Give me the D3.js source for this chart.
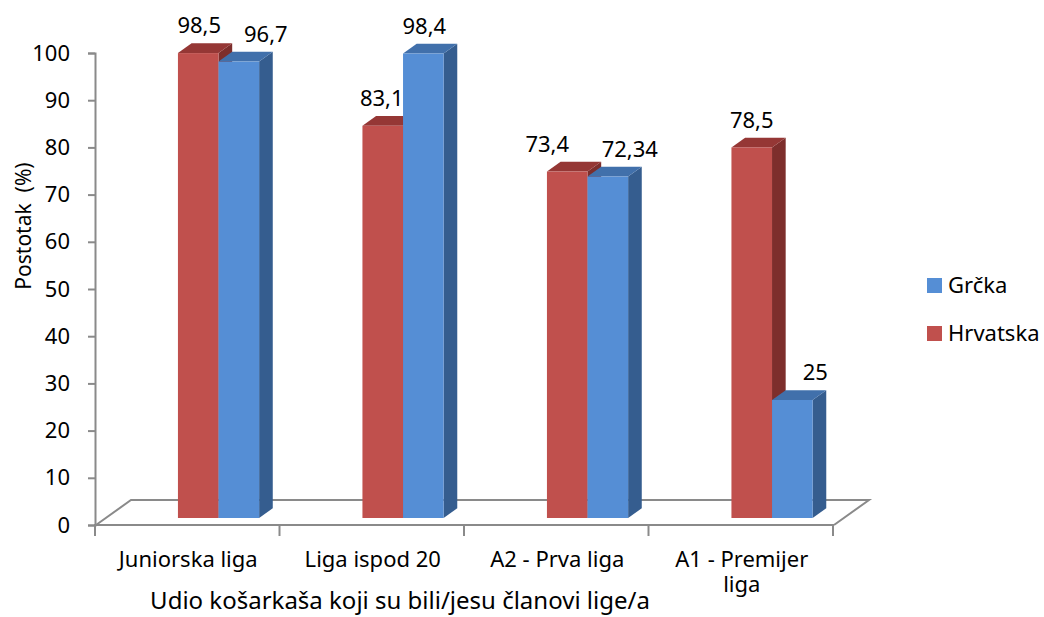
<!DOCTYPE html>
<html>
<head>
<meta charset="utf-8">
<script src="https://cdn.jsdelivr.net/npm/d3@7"></script>
<style>
  body { margin: 0; background: #fff; }
  text { font-family: 'Noto Sans', sans-serif; fill: #000; }
</style>
</head>
<body>
<div id="chart"></div>
<script>
const categories = ['Juniorska liga', 'Liga ispod 20', 'A2 - Prva liga', 'A1 - Premijer liga']
const hrvatska = [98.5, 83.1, 73.4, 78.5]
const grcka = [96.7, 98.4, 72.34, 25]
const yTicks = [0, 10, 20, 30, 40, 50, 60, 70, 80, 90, 100]
const seriesNames = ['Hrvatska', 'Grčka']
const legendOrder = ['Grčka', 'Hrvatska']

const width = 1044, height = 617

const colors = {
  'Hrvatska': { front: '#C0504D', top: '#953735', side: '#7D2E2C' },
  'Grčka': { front: '#558ED5', top: '#4170AB', side: '#355D8F' }
}

// label nudges (Excel moved some labels to avoid overlap)
const labelDx = {
  'Hrvatska': [1, -1, -20, 0],
  'Grčka': [27, 1, 22, 23]
}

const svg = d3.select('#chart')
  .append('svg')
    .attr('width', width)
    .attr('height', height)

const x = d3.scaleBand()
  .domain(categories)
  .range([96, 834])

const y = d3.scaleLinear()
  .domain([0, 100])
  .range([525, 53])

// depth of the floor (3d)
const depth = { dx: 35, dy: -25 }
const f0 = 0.28, f1 = 0.67
const axisColor = '#8a8a8a'

// floor outline
const y0 = y(0)
svg.append('path')
  .attr('d', `M${x.range()[0]},${y0} L${x.range()[0] + depth.dx},${y0 + depth.dy} L${x.range()[1] + depth.dx},${y0 + depth.dy} L${x.range()[1]},${y0}`)
  .style('fill', 'none')
  .style('stroke', axisColor)
  .style('stroke-width', 2)

// y axis
const yAxis = svg.append('g')
  .attr('transform', `translate(${x.range()[0] - 1}, 0)`)
  .call(d3.axisLeft(y).tickValues(yTicks).tickSize(7).tickPadding(18))
yAxis.select('.domain').style('stroke', axisColor).style('stroke-width', 2)
yAxis.selectAll('.tick line').style('stroke', axisColor).style('stroke-width', 2)
yAxis.selectAll('.tick text')
  .style('font-size', '22px')
  .style('font-family', "'Noto Sans', sans-serif")

// x axis front edge + ticks
svg.append('line')
  .attr('x1', x.range()[0] - 2).attr('x2', x.range()[1])
  .attr('y1', y0).attr('y2', y0)
  .style('stroke', axisColor).style('stroke-width', 2)

const xTicks = categories.map(c => x(c)).concat([x.range()[1]])
svg.selectAll('.xtick')
  .data(xTicks)
  .enter()
  .append('line')
  .attr('class', 'xtick')
  .attr('x1', d => d - 1).attr('x2', d => d - 1)
  .attr('y1', y0).attr('y2', y0 + 11)
  .style('stroke', axisColor).style('stroke-width', 2)

// bars
const bw = x.bandwidth()
const barW = 0.22 * bw
const barInset = 0.391 * bw
const fx = depth.dx * f0, fy = depth.dy * f0
const bdx = depth.dx * (f1 - f0), bdy = depth.dy * (f1 - f0)

const bars = []
categories.forEach((c, i) => {
  [hrvatska[i], grcka[i]].forEach((v, j) => {
    bars.push({ cat: c, i, series: seriesNames[j], j, value: v })
  })
})

const g = svg.selectAll('.bar')
  .data(bars)
  .enter()
  .append('g')
  .attr('class', 'bar')

const bx = d => x(d.cat) + fx + barInset + d.j * barW
const byTop = d => y(d.value) + fy
const byBot = y0 + fy

g.append('path')
  .attr('d', d => {
    const l = bx(d), r = l + barW, t = byTop(d)
    return `M${r},${t} L${r + bdx},${t + bdy} L${r + bdx},${byBot + bdy} L${r},${byBot} Z`
  })
  .style('fill', d => colors[d.series].side)

g.append('path')
  .attr('d', d => {
    const l = bx(d), r = l + barW, t = byTop(d)
    return `M${l},${t} L${l + bdx},${t + bdy} L${r + bdx},${t + bdy} L${r},${t} Z`
  })
  .style('fill', d => colors[d.series].top)

g.append('rect')
  .attr('x', bx)
  .attr('y', byTop)
  .attr('width', barW)
  .attr('height', d => byBot - byTop(d))
  .style('fill', d => colors[d.series].front)

// value labels
svg.selectAll('.vlabel')
  .data(bars)
  .enter()
  .append('text')
  .attr('class', 'vlabel')
  .attr('x', d => bx(d) + barW / 2 + labelDx[d.series][d.i])
  .attr('y', d => byTop(d) + bdy - 10)
  .attr('text-anchor', 'middle')
  .style('font-size', '22px')
  .text(d => String(d.value).replace('.', ','))

// category labels (wrapped)
const catLabels = svg.selectAll('.clabel')
  .data(categories)
  .enter()
  .append('text')
  .attr('class', 'clabel')
  .attr('x', d => x(d) + bw / 2)
  .attr('y', 567)
  .attr('text-anchor', 'middle')
  .style('font-size', '22px')
  .text(d => d)

catLabels.each(function (d) {
  const t = d3.select(this)
  if (this.getComputedTextLength() < 168) return
  const words = d.split(' ')
  const last = words.pop()
  t.text(null)
  t.append('tspan').attr('x', x(d) + bw / 2).attr('dy', 0).text(words.join(' '))
  t.append('tspan').attr('x', x(d) + bw / 2).attr('dy', 25).text(last)
})

// axis titles
svg.append('text')
  .attr('x', 400)
  .attr('y', 609)
  .attr('text-anchor', 'middle')
  .style('font-size', '24px')
  .text('Udio košarkaša koji su bili/jesu članovi lige/a')

svg.append('text')
  .attr('transform', 'translate(31, 226) rotate(-90)')
  .attr('text-anchor', 'middle')
  .style('font-size', '21px')
  .style('white-space', 'pre')
  .text('Postotak  (%)')

// legend
const legend = svg.selectAll('.legend')
  .data(legendOrder)
  .enter()
  .append('g')
  .attr('class', 'legend')
  .attr('transform', (d, i) => `translate(927, ${278 + i * 48})`)

legend.append('rect')
  .attr('width', 15)
  .attr('height', 15)
  .style('fill', d => colors[d].front)

legend.append('text')
  .attr('x', 21)
  .attr('y', 15)
  .style('font-size', '22px')
  .text(d => d)
</script>
</body>
</html>
